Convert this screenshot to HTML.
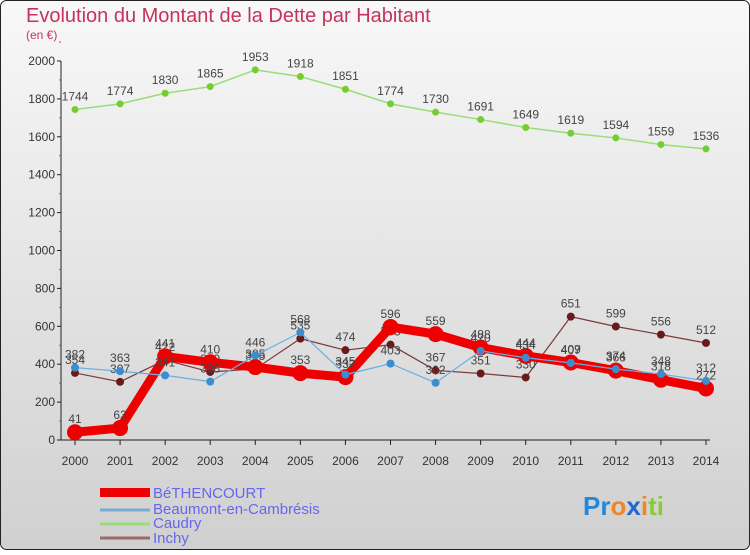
<!DOCTYPE html>
<html><head><meta charset="utf-8"><style>
body{margin:0;width:750px;height:550px;overflow:hidden;font-family:"Liberation Sans",sans-serif}
</style></head><body>
<svg id="c" width="750" height="550" xmlns="http://www.w3.org/2000/svg">
<defs><linearGradient id="bg" x1="0" y1="0" x2="0" y2="1"><stop offset="0" stop-color="#f8f8f8"/><stop offset="1" stop-color="#d0d0d0"/></linearGradient></defs>
<rect x="0.5" y="0.5" width="749" height="549" rx="6" fill="url(#bg)" stroke="#222"/>
<text x="26" y="22" font-size="20" fill="#c8325a">Evolution du Montant de la Dette par Habitant</text>
<text x="26" y="39" font-size="12" fill="#c8325a">(en €)</text>
<g id="axes"></g><g id="series"></g>
<g>
<rect x="100" y="488" width="50" height="9" fill="#e00"/>
<text x="153" y="498" font-size="15" fill="#6666ee">BéTHENCOURT</text>
<line x1="100" y1="510" x2="150" y2="510" stroke="#7aabd0" stroke-width="3"/>
<text x="153" y="514" font-size="15" fill="#6666ee">Beaumont-en-Cambrésis</text>
<line x1="100" y1="524" x2="150" y2="524" stroke="#99dd77" stroke-width="3"/>
<text x="153" y="528" font-size="15" fill="#6666ee">Caudry</text>
<line x1="100" y1="538" x2="150" y2="538" stroke="#9a6a6a" stroke-width="3"/>
<text x="153" y="543" font-size="15" fill="#6666ee">Inchy</text>
</g>
<g font-size="26" font-weight="bold"><text x="583" y="515"><tspan fill="#2288dd">Pr</tspan><tspan fill="#ee8822">o</tspan><tspan fill="#2266cc">x</tspan><tspan fill="#ee8822">i</tspan><tspan fill="#88cc33">ti</tspan></text></g>
</svg>
<script>
const years=[2000,2001,2002,2003,2004,2005,2006,2007,2008,2009,2010,2011,2012,2013,2014];
const yTicks=[0,200,400,600,800,1000,1200,1400,1600,1800,2000];
const bethencourt=[41,63,441,410,385,353,332,596,559,488,444,409,366,318,272];
const beaumont=[382,363,341,308,446,568,345,403,302,470,434,407,374,348,312];
const caudry=[1744,1774,1830,1865,1953,1918,1851,1774,1730,1691,1649,1619,1594,1559,1536];
const inchy=[354,307,422,359,375,535,474,503,367,351,330,651,599,556,512];
const NS="http://www.w3.org/2000/svg";
const X=i=>75+i*(706-75)/14, Y=v=>440-v*(440-61)/2000;
function mk(t,a,p){const e=document.createElementNS(NS,t);for(const k in a)e.setAttribute(k,a[k]);p.appendChild(e);return e;}
const ax=document.getElementById('axes'),sg=document.getElementById('series');
const ya=mk('line',{x1:61,y1:61,x2:61,y2:440,stroke:'#222'},ax);


const xa=mk('line',{x1:61,y1:440,x2:710,y2:440,stroke:'#222'},ax);


yTicks.forEach(v=>{
 mk('line',{x1:57,y1:Y(v),x2:61,y2:Y(v),stroke:'#222'},ax);
 mk('line',{x1:59,y1:Y(v+100),x2:61,y2:Y(v+100),stroke:'#c44'},ax);
 const t=mk('text',{x:55,y:Y(v)+4,'font-size':12,fill:'#333','text-anchor':'end'},ax);t.textContent=v;
 
 
});
years.forEach((y,i)=>{
 mk('line',{x1:X(i),y1:440,x2:X(i),y2:445,stroke:'#222'},ax);
 const t=mk('text',{x:X(i),y:465,'font-size':12,fill:'#333','text-anchor':'middle'},ax);t.textContent=y;
 
 
});
function series(d,name,lc,lw,pc,pr){
 const g=mk('g',{},sg);
 
 
 mk('polyline',{points:d.map((v,i)=>X(i)+','+Y(v)).join(' '),fill:'none',stroke:lc,'stroke-width':lw,'stroke-linejoin':'round'},g);
 d.forEach((v,i)=>{
  const c=mk('circle',{cx:X(i),cy:Y(v),r:pr,fill:pc},g);
  
  
  const t=mk('text',{x:X(i),y:Y(v)-9,'font-size':12,fill:'#444','text-anchor':'middle'},g);t.textContent=v;
  
  
 });
}
series(caudry,'caudry','#99dd77',1.5,'#77cc33',3.5);
series(inchy,'inchy','#7a3a3a',1.2,'#6b1a1a',4);
series(bethencourt,'bethencourt','#ee0000',9,'#ee0000',8);
series(beaumont,'beaumont','#6aaee0',1.2,'#3a8ed0',4);
</script>
</body></html>
